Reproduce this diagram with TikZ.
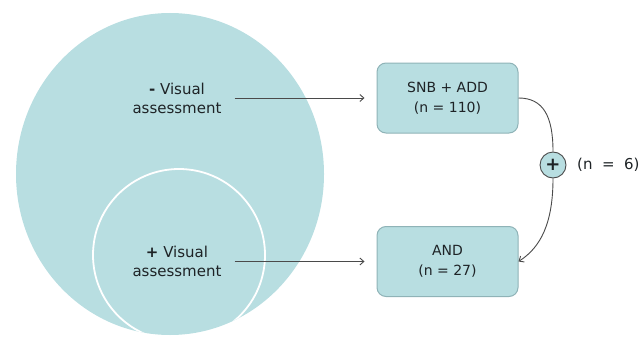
\documentclass[tikz,border=0pt]{standalone}
\usepackage{fontspec}
\setmainfont{DejaVu Sans}
\usetikzlibrary{arrows.meta}
\definecolor{teal1}{HTML}{B8DEE1}
\definecolor{boxline}{HTML}{8FB3B7}
\definecolor{ink}{HTML}{1E2326}
\definecolor{wire}{HTML}{4A4A4A}
\begin{document}
\begin{tikzpicture}[x=1pt,y=-1pt,
 lbl/.style={font=\fontsize{15}{19}\selectfont, text=ink, align=center, inner sep=0pt},
 grp/.style={draw=boxline, line width=1pt, fill=teal1, rounded corners=9pt, minimum width=141pt, minimum height=70pt, align=center, font=\fontsize{14}{20}\selectfont, text=ink, inner sep=0pt},
 conn/.style={wire, line width=0.9pt, -{Straight Barb[length=4pt,width=7pt]}},
 link/.style={wire, line width=0.9pt},
]
\useasboundingbox (0,0) rectangle (644,337);
\fill[teal1] (170,174) ellipse [x radius=154, y radius=161];
\begin{scope}
\clip (170,174) ellipse [x radius=154, y radius=161];
\draw[white, line width=1.8pt] (179,255) circle [radius=86];
\end{scope}
\node[lbl] (neg) at (177,98) {\textbf{-} Visual\\assessment};
\node[lbl] (pos) at (177,261.5) {\textbf{+} Visual\\assessment};
\node[grp] (snb) at (447.5,98) {SNB + ADD\\(n = 110)};
\node[grp] (and) at (447.5,261.5) {AND\\(n = 27)};
\node[circle, draw=wire, line width=0.9pt, fill=teal1, minimum size=26pt, inner sep=0pt, font=\fontsize{18}{18}\selectfont\bfseries, text=ink] (plus) at (553,165) {+};
\node[lbl, anchor=west] (six) at (577,165) {(n\ \ =\ \ 6)};
\draw[conn] ([xshift=13pt]neg.east) -- ([xshift=-12pt]snb.west);
\draw[conn] ([xshift=13pt]pos.east) -- ([xshift=-12pt]and.west);
\draw[link] (snb.east) .. controls +(25,0) and +(0,-35) .. (plus.north);
\draw[conn] (plus.south) .. controls +(0,45) and +(22,-14) .. (and.east);
\end{tikzpicture}
\end{document}
